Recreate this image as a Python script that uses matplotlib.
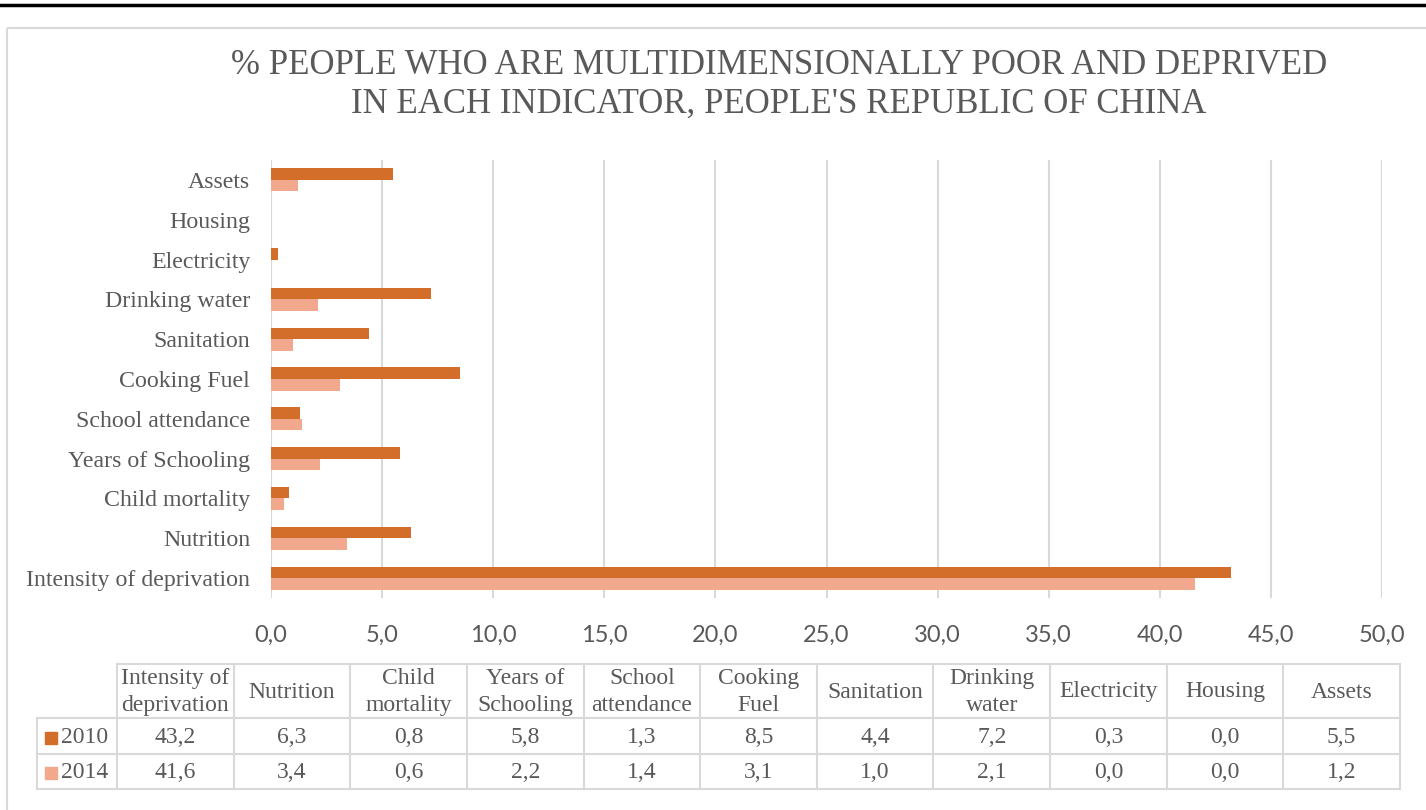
import matplotlib
matplotlib.use('Agg')
import matplotlib.pyplot as plt
from matplotlib.patches import Rectangle
import numpy as np

# data (bottom to top in the chart, left to right in the table)
categories = ['Intensity of deprivation', 'Nutrition', 'Child mortality', 'Years of Schooling',
              'School attendance', 'Cooking Fuel', 'Sanitation', 'Drinking water',
              'Electricity', 'Housing', 'Assets']
table_heads = ['Intensity of\ndeprivation', 'Nutrition', 'Child\nmortality', 'Years of\nSchooling',
               'School\nattendance', 'Cooking\nFuel', 'Sanitation', 'Drinking\nwater',
               'Electricity', 'Housing', 'Assets']
v2010 = [43.2, 6.3, 0.8, 5.8, 1.3, 8.5, 4.4, 7.2, 0.3, 0.0, 5.5]
v2014 = [41.6, 3.4, 0.6, 2.2, 1.4, 3.1, 1.0, 2.1, 0.0, 0.0, 1.2]
years = ['2010', '2014']
xticks = np.arange(0, 55, 5)

c2010 = '#D26E2A'
c2014 = '#F2A88C'
grid_c = '#D9D9D9'
txt_c = '#595959'
serif = 'Liberation Serif'
sans = 'Lato'

def fmt(v):
    return ('%.1f' % v).replace('.', ',')

W, H = 1426, 810
fig = plt.figure(figsize=(W/100, H/100), dpi=100)

# overlay in pixel coordinates for frame and table
ov = fig.add_axes([0, 0, 1, 1], zorder=-1)
ov.set_xlim(0, W)
ov.set_ylim(H, 0)
ov.axis('off')
ov.plot([0, W], [4.5, 4.5], color='black', lw=2.5)
ov.add_patch(Rectangle((7, 28), W, H, fill=False, ec=grid_c, lw=1.5))

# main bar chart
left, right, top, bottom = 271, 1382, 160, 598
ax = fig.add_axes([left/W, 1-bottom/H, (right-left)/W, (bottom-top)/H])
ax.set_facecolor('none')
y = np.arange(len(categories))
bh = 0.29
ax.barh(y + bh/2, v2010, height=bh, color=c2010, zorder=3)
ax.barh(y - bh/2, v2014, height=bh, color=c2014, zorder=3)
ax.set_ylim(-0.5, len(categories) - 0.5)
ax.set_xlim(0, 50)
ax.set_xticks(xticks)
ax.set_xticklabels([fmt(t) for t in xticks], fontsize=17, family=sans, color=txt_c)
ax.set_yticks(y)
ax.set_yticklabels(categories, fontsize=17.2, family=serif, color=txt_c)
ax.tick_params(axis='x', length=0, pad=19)
ax.tick_params(axis='y', length=0, pad=15)
for s in ax.spines.values():
    s.set_visible(False)
ax.grid(axis='x', color=grid_c, lw=1.5, zorder=0)

fig.text(779/W, 1-65/H, "% PEOPLE WHO ARE MULTIDIMENSIONALLY POOR AND DEPRIVED",
         ha='center', va='center', fontsize=25, family=serif, color=txt_c)
fig.text(779/W, 1-104/H, "IN EACH INDICATOR, PEOPLE'S REPUBLIC OF CHINA",
         ha='center', va='center', fontsize=25, family=serif, color=txt_c)

# data table
x0, cw = 117, (1400 - 117) / 11
rows = [664, 718, 754, 789]
lx = 37
tkw = dict(fontsize=17, family=serif, color=txt_c, ha='center', va='center')
# horizontal lines
ov.plot([x0, 1400], [rows[0], rows[0]], color=grid_c, lw=1.5)
for r in rows[1:]:
    ov.plot([lx, 1400], [r, r], color=grid_c, lw=1.5)
# vertical lines
ov.plot([lx, lx], [rows[1], rows[3]], color=grid_c, lw=1.5)
for i in range(len(categories) + 1):
    xx = x0 + i * cw
    ov.plot([xx, xx], [rows[0], rows[3]], color=grid_c, lw=1.5)
for i, h in enumerate(table_heads):
    ov.text(x0 + (i + 0.5) * cw, (rows[0] + rows[1]) / 2 + 1, h, linespacing=1.35, **tkw)
for j, (vals, col) in enumerate([(v2010, c2010), (v2014, c2014)]):
    yc = (rows[j + 1] + rows[j + 2]) / 2 + 1.5
    ov.add_patch(Rectangle((45, yc - 6), 12, 12, color=col))
    ov.text(61, yc, years[j], fontsize=17, family=serif, color=txt_c, ha='left', va='center')
    for i, v in enumerate(vals):
        ov.text(x0 + (i + 0.5) * cw, yc, fmt(v), **tkw)

fig.savefig('out.png', dpi=100)
